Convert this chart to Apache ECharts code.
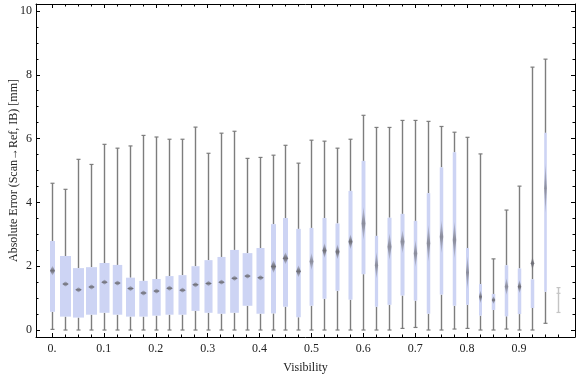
<!DOCTYPE html>
<html><head><meta charset="utf-8">
<script src="https://cdn.jsdelivr.net/npm/echarts@6/dist/echarts.min.js"></script>
<style>html,body{margin:0;padding:0;background:#fff}#c{width:576px;height:377px}</style>
</head><body><div id="c"></div>
<script>
// ---- data ----
const visibility = [0, 0.025, 0.05, 0.075, 0.1, 0.125, 0.15, 0.175, 0.2, 0.225, 0.25, 0.275, 0.3, 0.325, 0.35, 0.375, 0.4, 0.425, 0.45, 0.475, 0.5, 0.525, 0.55, 0.575, 0.6, 0.625, 0.65, 0.675, 0.7, 0.725, 0.75, 0.775, 0.8, 0.825, 0.85, 0.875, 0.9, 0.925, 0.95, 0.975];
const whiskerLow = [0.02, 0, 0, 0, 0, 0, 0, 0, 0, 0, 0, 0, 0, 0, 0, 0, 0, 0, 0, 0, 0, 0, 0, 0, 0, 0, 0, 0.05, 0.08, 0, 0, 0.03, 0.05, 0, 0, 0.03, 0, 0, 0.21, 0.55];
const q1 = [0.57, 0.42, 0.39, 0.48, 0.54, 0.48, 0.42, 0.42, 0.45, 0.48, 0.48, 0.6, 0.54, 0.51, 0.54, 0.76, 0.51, 0.52, 0.73, 0.4, 0.76, 0.98, 1.23, 0.95, 1.75, 0.73, 0.79, 1.08, 0.92, 0.51, 1.11, 0.76, 0.79, 0.45, 0.63, 0.43, 0.5, 0.69, 1.2, 1.15];
const median = [1.86, 1.44, 1.26, 1.35, 1.5, 1.47, 1.3, 1.16, 1.22, 1.31, 1.25, 1.42, 1.46, 1.5, 1.62, 1.69, 1.64, 1.99, 2.25, 1.84, 2.15, 2.49, 2.45, 2.77, 3.34, 2.03, 2.61, 2.77, 2.4, 2.72, 2.92, 2.82, 1.8, 1.04, 0.94, 1.36, 1.36, 2.09, 4.44, 1.15];
const q3 = [2.79, 2.32, 1.94, 1.97, 2.1, 2.04, 1.64, 1.54, 1.6, 1.69, 1.72, 2.0, 2.19, 2.29, 2.51, 2.41, 2.57, 3.32, 3.51, 3.17, 3.2, 3.51, 3.34, 4.36, 5.3, 2.95, 3.52, 3.64, 3.42, 4.29, 5.1, 5.57, 2.57, 1.44, 1.13, 2.03, 1.93, 1.59, 6.18, 1.15];
const whiskerHigh = [4.6, 4.41, 5.35, 5.19, 5.82, 5.7, 5.77, 6.1, 6.05, 5.98, 5.98, 6.36, 5.54, 6.17, 6.23, 5.38, 5.41, 5.48, 5.79, 5.23, 5.95, 5.92, 5.7, 5.98, 6.73, 6.35, 6.35, 6.57, 6.57, 6.54, 6.38, 6.2, 6.04, 5.52, 2.23, 3.76, 4.51, 8.24, 8.49, 1.33];
// relative box width (share of the 0.025 bin spacing; encodes sample weight)
const binWeight = [0.39, 0.85, 0.85, 0.85, 0.77, 0.73, 0.69, 0.65, 0.65, 0.62, 0.62, 0.62, 0.62, 0.62, 0.67, 0.75, 0.62, 0.39, 0.39, 0.35, 0.3, 0.31, 0.31, 0.31, 0.3, 0.25, 0.31, 0.31, 0.27, 0.27, 0.27, 0.27, 0.23, 0.23, 0.27, 0.27, 0.27, 0.27, 0.2, 0];
// vertical extent of the median marker (error units)
const medianSpread = [0.31, 0.17, 0.17, 0.17, 0.17, 0.17, 0.17, 0.17, 0.17, 0.17, 0.17, 0.17, 0.17, 0.17, 0.17, 0.17, 0.17, 0.41, 0.38, 0.38, 0.53, 0.47, 0.47, 0.47, 1.03, 0.85, 0.85, 0.72, 0.85, 1.16, 1.03, 1.16, 1.03, 0.41, 0.25, 0.53, 0.41, 0.41, 1.57, 0.06];
const xTickValues = [0, 0.1, 0.2, 0.3, 0.4, 0.5, 0.6, 0.7, 0.8, 0.9];
const xTickLabels = ['0.', '0.1', '0.2', '0.3', '0.4', '0.5', '0.6', '0.7', '0.8', '0.9'];
const yTickValues = [0, 2, 4, 6, 8, 10];
const yTickLabels = ['0', '2', '4', '6', '8', '10'];

const xMinor = [];
for (let k = 1; k < 41; k++) { if (k % 4 !== 0) xMinor.push(+(k * 0.025).toFixed(3)); }
const yMinor = [];
for (let k = 1; k < 21; k++) { if (k % 4 !== 0) yMinor.push(k * 0.5); }

const rows = visibility.map((v, i) => [v, whiskerLow[i], q1[i], median[i], q3[i], whiskerHigh[i], binWeight[i], medianSpread[i]]);

const XMIN = -0.0308, XMAX = 1.0079, YMIN = -0.219, YMAX = 10.219;
const FONT = '"Liberation Serif","Times New Roman",serif';
const TXT = '#222';

function xAxisDef(pos, major, showLabel) {
  return {
    type: 'value', min: XMIN, max: XMAX, position: pos,
    axisLine: { show: major, onZero: false, lineStyle: { color: '#000', width: 1 } },
    axisTick: { show: true, inside: true, length: major ? 4 : 2.5, customValues: major ? xTickValues : xMinor, lineStyle: { color: '#000', width: 1 } },
    axisLabel: showLabel ? { show: true, customValues: xTickValues, formatter: v => xTickLabels[xTickValues.findIndex(t => Math.abs(t - v) < 1e-6)] || '', color: TXT, fontFamily: FONT, fontSize: 12, margin: 6 } : { show: false },
    splitLine: { show: false },
    name: showLabel ? 'Visibility' : '', nameLocation: 'middle', nameGap: 25, nameMoveOverlap: false,
    nameTextStyle: { color: TXT, fontFamily: FONT, fontSize: 12 }
  };
}
function yAxisDef(pos, major, showLabel) {
  return {
    type: 'value', min: YMIN, max: YMAX, position: pos,
    axisLine: { show: major, onZero: false, lineStyle: { color: '#000', width: 1 } },
    axisTick: { show: true, inside: true, length: major ? 4 : 2.5, customValues: major ? yTickValues : yMinor, lineStyle: { color: '#000', width: 1 } },
    axisLabel: showLabel ? { show: true, customValues: yTickValues, formatter: v => yTickLabels[yTickValues.indexOf(v)] ?? '', color: TXT, fontFamily: FONT, fontSize: 12, margin: 4 } : { show: false },
    splitLine: { show: false },
    name: showLabel ? 'Absolute Error (Scan\u2192Ref, IB) [mm]' : '', nameLocation: 'middle', nameGap: 16, nameMoveOverlap: false,
    nameTextStyle: { color: TXT, fontFamily: FONT, fontSize: 12 }
  };
}

function renderItem(params, api) {
  const x = api.value(0), lo = api.value(1), a = api.value(2), m = api.value(3), b = api.value(4), hi = api.value(5), wf = api.value(6), ms = api.value(7);
  const cx = Math.round(api.coord([x, 0])[0]) + 0.5;
  const yLo = api.coord([x, lo])[1], yA = api.coord([x, a])[1], yM = api.coord([x, m])[1], yB = api.coord([x, b])[1], yHi = api.coord([x, hi])[1];
  const bw = api.size([wf * 0.025, 0])[0];
  const mh = api.size([0, ms])[1];
  const faded = wf === 0;
  const wc = faded ? '#c4c4c4' : '#7d7d7d';
  const lw = 1.4;
  const ch = [];
  ch.push({ type: 'line', shape: { x1: cx, y1: yHi, x2: cx, y2: yB }, style: { stroke: wc, lineWidth: lw } });
  ch.push({ type: 'line', shape: { x1: cx, y1: yA, x2: cx, y2: yLo }, style: { stroke: wc, lineWidth: lw } });
  ch.push({ type: 'line', shape: { x1: cx - 2, y1: yHi, x2: cx + 2, y2: yHi }, style: { stroke: wc, lineWidth: 1.2 } });
  ch.push({ type: 'line', shape: { x1: cx - 2, y1: yLo, x2: cx + 2, y2: yLo }, style: { stroke: wc, lineWidth: 1.2 } });
  if (!faded) {
    ch.push({ type: 'rect', shape: { x: cx - bw / 2, y: yB, width: bw, height: yA - yB }, style: { fill: '#cdd4f4' } });
    const hw = Math.min(3.2, bw / 2);
    const hh = mh / 2;
    const peak = hh > 8 ? 0.7 : 1;
    ch.push({ type: 'polygon', shape: { points: [[cx, yM - hh], [cx + hw, yM], [cx, yM + hh], [cx - hw, yM]] },
      style: { fill: new echarts.graphic.LinearGradient(0, 0, 0, 1, [
        { offset: 0, color: 'rgba(110,110,118,0.2)' },
        { offset: 0.5, color: 'rgba(110,110,118,' + peak + ')' },
        { offset: 1, color: 'rgba(110,110,118,0.2)' }]) } });
  } else {
    ch.push({ type: 'line', shape: { x1: cx - 2, y1: yM, x2: cx + 2, y2: yM }, style: { stroke: wc, lineWidth: 1.2 } });
  }
  return { type: 'group', children: ch };
}

const chart = echarts.init(document.getElementById('c'), null, { renderer: 'canvas' });
chart.setOption({
  animation: false,
  backgroundColor: '#fff',
  grid: { left: 36, right: 1, top: 4, bottom: 40, containLabel: false, outerBoundsMode: 'none' },
  xAxis: [xAxisDef('bottom', true, true), xAxisDef('bottom', false, false), xAxisDef('top', true, false), xAxisDef('top', false, false)],
  yAxis: [yAxisDef('left', true, true), yAxisDef('left', false, false), yAxisDef('right', true, false), yAxisDef('right', false, false)],
  series: [{
    type: 'custom', xAxisIndex: 0, yAxisIndex: 0,
    renderItem: renderItem,
    encode: { x: 0, y: [1, 2, 3, 4, 5] },
    data: rows, clip: false
  }]
});
</script></body></html>
